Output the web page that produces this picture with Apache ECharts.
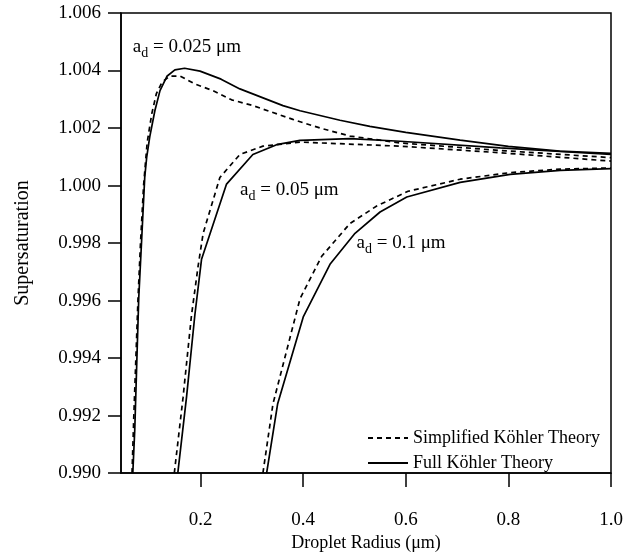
<!DOCTYPE html>
<html>
<head>
<meta charset="utf-8">
<script src="https://cdn.jsdelivr.net/npm/echarts@6/dist/echarts.min.js"></script>
<style>
html,body{margin:0;padding:0;background:#fff;}
#c{width:631px;height:557px;}
</style>
</head>
<body>
<div id="c"></div>
<script>
// ---- data (x: droplet radius in µm, y: supersaturation) ----
const fullA025 = [[0.068,0.9900],[0.0718,0.9915],[0.0757,0.9938],[0.0796,0.9961],[0.0855,0.9982],[0.0913,1.0003],[0.0952,1.0010],[0.1011,1.0017],[0.111,1.0026],[0.121,1.0033],[0.1345,1.0038],[0.150,1.00402],[0.169,1.00408],[0.199,1.00398],[0.24,1.0037],[0.2767,1.00336],[0.3606,1.00278],[0.394,1.0026],[0.4718,1.00227],[0.53,1.00206],[0.60,1.00185],[0.706,1.00158],[0.80,1.00136],[0.90,1.0012],[1.0,1.00112]];
const simpA025 = [[0.0665,0.9900],[0.0700,0.9920],[0.0740,0.9940],[0.0780,0.9960],[0.0830,0.9980],[0.0890,1.0000],[0.0960,1.0015],[0.1050,1.0025],[0.1140,1.0032],[0.1250,1.0036],[0.1400,1.0038],[0.160,1.00381],[0.189,1.00353],[0.2243,1.0033],[0.2605,1.00298],[0.302,1.00278],[0.38,1.0023],[0.4328,1.0020],[0.4913,1.00172],[0.589,1.00148],[0.784,1.00122],[1.0,1.00097]];
const fullA05 = [[0.1557,0.9900],[0.1727,0.99264],[0.1889,0.99549],[0.2020,0.99744],[0.2507,1.00005],[0.302,1.00108],[0.3483,1.00142],[0.3938,1.00157],[0.4913,1.00163],[0.5889,1.00154],[0.784,1.00131],[1.0,1.00108]];
const simpA05 = [[0.1489,0.9900],[0.166,0.99264],[0.1824,0.99549],[0.1953,0.9972],[0.2051,0.99834],[0.2377,1.00028],[0.2767,1.00108],[0.3216,1.00137],[0.3938,1.00151],[0.5889,1.00137],[0.784,1.00114],[1.0,1.00085]];
const fullA1 = [[0.3288,0.9900],[0.3502,0.99240],[0.4002,0.99543],[0.4523,0.99726],[0.5011,0.99834],[0.5499,0.99908],[0.602,0.99960],[0.706,1.00011],[0.8035,1.00039],[0.9011,1.00053],[1.0,1.00059]];
const simpA1 = [[0.3216,0.9900],[0.3411,0.99240],[0.3938,0.99606],[0.4361,0.99754],[0.4913,0.99868],[0.5434,0.99929],[0.6045,0.9998],[0.706,1.00022],[0.8035,1.00045],[0.9011,1.00057],[1.0,1.00061]];
const xTicks = [0.2,0.4,0.6,0.8,1.0];
const seriesNames = ['Simplified Köhler Theory','Full Köhler Theory'];
const curveLabels = ['0.025','0.05','0.1'];

const FONT = "'Liberation Serif','Times New Roman',serif";
const chart = echarts.init(document.getElementById('c'), null, {renderer:'canvas'});

function lineSeries(name, data, dashed){
  return {
    type:'line', name:name, data:data, showSymbol:false, symbol:'none',
    smooth:false, animation:false, silent:true,
    lineStyle:{color:'#000', width:1.7, type: dashed ? [5,4] : 'solid'},
    itemStyle:{color:'#000'}
  };
}

const option = {
  animation:false,
  backgroundColor:'#fff',
  grid:{left:121, right:20, top:13, bottom:76, show:true, borderColor:'#000', borderWidth:1.5, containLabel:false},
  legend:{
    orient:'vertical', left:367, top:428, align:'left', padding:0,
    itemWidth:40, itemHeight:14, itemGap:5,
    data:seriesNames,
    itemStyle:{color:'rgba(0,0,0,0)', borderColor:'rgba(0,0,0,0)', borderWidth:0},
    textStyle:{fontFamily:FONT, fontSize:18, color:'#000', lineHeight:20},
    selectedMode:false
  },
  xAxis:{
    type:'value', min:0.045, max:1.0,
    name:'Droplet Radius (μm)', nameLocation:'middle', nameGap:60,
    nameTextStyle:{fontFamily:FONT, fontSize:18, color:'#000'},
    axisLine:{show:true, lineStyle:{color:'#000', width:1.5}},
    axisTick:{show:true, inside:false, length:14, customValues:xTicks, lineStyle:{color:'#000', width:1.5}},
    axisLabel:{customValues:xTicks, fontFamily:FONT, fontSize:19, color:'#000', margin:37, formatter:v=>Number(v).toFixed(1)},
    splitLine:{show:false}
  },
  yAxis:{
    type:'value', min:0.990, max:1.006, interval:0.002,
    name:'Supersaturation', nameLocation:'middle', nameGap:88, nameRotate:90,
    nameTextStyle:{fontFamily:FONT, fontSize:20, color:'#000'},
    axisLine:{show:true, lineStyle:{color:'#000', width:1.5}},
    axisTick:{show:true, inside:false, length:13, lineStyle:{color:'#000', width:1.5}},
    axisLabel:{fontFamily:FONT, fontSize:19, color:'#000', margin:20, formatter:v=>Number(v).toFixed(3)},
    splitLine:{show:false}
  },
  series:[
    lineSeries(seriesNames[0], simpA025, true),
    lineSeries(seriesNames[1], fullA025, false),
    lineSeries(seriesNames[0], simpA05, true),
    lineSeries(seriesNames[1], fullA05, false),
    lineSeries(seriesNames[0], simpA1, true),
    lineSeries(seriesNames[1], fullA1, false)
  ]
};
chart.setOption(option);

// annotation anchors in data space (left edge, vertical middle of main text)
const anchors = [[0.068,1.0048],[0.277,0.99985],[0.504,0.99799]];
const graphics = anchors.map((a,i)=>{
  const p = chart.convertToPixel({gridIndex:0}, a);
  return {
    type:'text', x:p[0], y:p[1], silent:true,
    style:{
      text:'{m|a}{s|d}{m| = '+curveLabels[i]+' μm}',
      verticalAlign:'middle', align:'left',
      rich:{
        m:{fontFamily:FONT, fontSize:19, fill:'#000', lineHeight:26},
        s:{fontFamily:FONT, fontSize:14, fill:'#000', lineHeight:14, verticalAlign:'bottom'}
      }
    }
  };
});
chart.setOption({graphic:graphics});
</script>
</body>
</html>
